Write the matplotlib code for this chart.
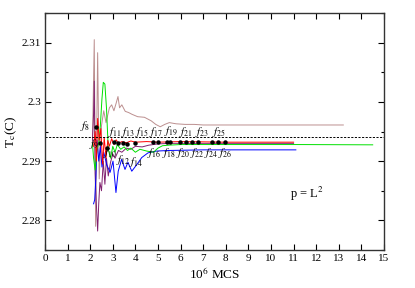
import matplotlib
matplotlib.use("Agg")
import matplotlib.pyplot as plt
from matplotlib.ticker import MultipleLocator

plt.rcParams['font.family'] = ['Liberation Serif', 'DejaVu Serif']
plt.rcParams['mathtext.fontset'] = 'stix'

# ---- data ----
brown_x = [2.10, 2.18, 2.24, 2.33, 2.40, 2.50, 2.60, 2.70, 2.85, 2.95, 3.05, 3.15, 3.23, 3.30, 3.40,
           3.55, 3.70, 3.85, 4.10, 4.40, 4.70, 4.90, 5.10, 5.30, 5.50, 5.80, 6.20, 6.60, 7.00, 8.00, 10.00, 13.20]
brown_y = [2.2930, 2.3105, 2.2790, 2.3083, 2.2870, 2.2960, 2.2985, 2.2965, 2.2990, 2.2995, 2.2985, 2.2998,
           2.3009, 2.2990, 2.2995, 2.2984, 2.2982, 2.2979, 2.2975, 2.2974, 2.2968, 2.2962, 2.2958, 2.2962,
           2.2965, 2.2963, 2.2962, 2.2962, 2.2961, 2.2961, 2.2961, 2.2961]

purple_x = [2.10, 2.15, 2.18, 2.22, 2.27, 2.33, 2.38, 2.43, 2.50, 2.58, 2.65, 2.72, 2.80, 2.90, 3.00,
            3.10, 3.25, 3.40, 3.60, 3.80, 4.00, 4.30, 4.60, 5.00, 5.50, 7.00, 11.00]
purple_y = [2.2935, 2.2980, 2.3035, 2.2880, 2.2830, 2.2782, 2.2830, 2.2864, 2.2850, 2.2900, 2.2861,
            2.2905, 2.2875, 2.2898, 2.2912, 2.2905, 2.2918, 2.2915, 2.2922, 2.2920, 2.2925, 2.2924,
            2.2927, 2.2929, 2.2930, 2.2930, 2.2930]

blue_x = [2.15, 2.20, 2.25, 2.30, 2.38, 2.45, 2.52, 2.60, 2.73, 2.88, 3.01, 3.14, 3.24, 3.39, 3.54,
          3.67, 3.84, 4.06, 4.28, 4.56, 4.94, 5.50, 7.00, 11.10]
blue_y = [2.2828, 2.2835, 2.2870, 2.2935, 2.2900, 2.2925, 2.2890, 2.2915, 2.2894, 2.2881, 2.2900,
          2.2847, 2.2883, 2.2903, 2.2886, 2.2898, 2.2883, 2.2894, 2.2906, 2.2914, 2.2917, 2.2918,
          2.2919, 2.2919]

green_x = [2.10, 2.15, 2.22, 2.30, 2.38, 2.45, 2.52, 2.58, 2.65, 2.72, 2.80, 2.90, 3.00, 3.10, 3.20,
           3.35, 3.50, 3.65, 3.80, 4.00, 4.20, 4.50, 4.80, 5.00, 5.20, 5.50, 6.00, 8.00, 11.00, 14.50]
green_y = [2.2930, 2.2905, 2.2885, 2.2920, 2.2930, 2.2960, 2.3005, 2.3033, 2.3030, 2.2990, 2.2920,
           2.2905, 2.2925, 2.2915, 2.2928, 2.2920, 2.2924, 2.2918, 2.2922, 2.2915, 2.2920, 2.2917,
           2.2915, 2.2922, 2.2926, 2.2927, 2.2928, 2.2928, 2.2928, 2.29275]

red_x = [2.15, 2.22, 2.28, 2.33, 2.40, 2.47, 2.55, 2.62, 2.70, 2.78, 2.85, 2.95, 3.05, 3.15, 3.25,
         3.40, 3.60, 3.80, 4.00, 4.50, 5.00, 6.00, 8.00, 11.00]
red_y = [2.2925, 2.2950, 2.2900, 2.2972, 2.2935, 2.2955, 2.2895, 2.2940, 2.2905, 2.2935, 2.2925,
         2.2938, 2.2928, 2.2936, 2.2930, 2.2933, 2.2931, 2.2934, 2.2932, 2.2933, 2.2932, 2.2933,
         2.2932, 2.2932]

# black points f_n
f_n = list(range(8, 27))
f_x = [2.26, 2.45, 2.75, 3.05, 3.25, 3.45, 3.65, 4.00, 4.79, 5.01, 5.38, 5.53, 5.97, 6.24, 6.49,
       6.76, 7.38, 7.67, 7.96]
f_y = [2.2958, 2.2931, 2.2922, 2.2933, 2.2930, 2.2931, 2.2929, 2.2931, 2.2933, 2.2933, 2.2933,
       2.2933, 2.2933, 2.2933, 2.2933, 2.2933, 2.2933, 2.2933, 2.2933]

# label anchor positions (data coords) for f_8 ... f_26
lab_x = [1.78, 2.18, 2.88, 3.10, 3.45, 3.68, 4.02, 4.28, 4.85, 4.92, 5.48, 5.57, 6.10, 6.25, 6.72,
         6.95, 7.35, 7.70, 7.97]
lab_y = [2.2960, 2.2929, 2.2914, 2.2950, 2.2902, 2.2950, 2.2898, 2.2950, 2.2914, 2.2950, 2.2914,
         2.2950, 2.2914, 2.2950, 2.2914, 2.2950, 2.2914, 2.2950, 2.2913]

tc_ref = 2.294

# ---- figure ----
fig = plt.figure(figsize=(4.15, 2.88), dpi=100)
ax = fig.add_axes([0.1084, 0.1319, 0.8169, 0.823])

lw = 0.7
ax.plot(brown_x, brown_y, color='#bc8f8f', lw=lw)
ax.plot(purple_x, purple_y, color='#80206e', lw=lw)
ax.plot(blue_x, blue_y, color='#0000ff', lw=lw)
ax.plot(green_x, green_y, color='#00e000', lw=lw)
ax.plot(red_x, red_y, color='#ff0000', lw=lw)
ax.axhline(tc_ref, color='black', lw=0.7, dashes=(2.2, 1.5))
ax.plot(f_x, f_y, 'o', color='black', ms=2.2, zorder=5)

for n, x, y in zip(f_n, lab_x, lab_y):
    ax.text(x, y, r'$f_{%d}$' % n, ha='center', va='center', fontsize=8, zorder=6)

ax.text(10.85, 2.2845, r'p = L$^{2}$', fontsize=9, ha='left', va='center')

ax.set_xlim(0, 15)
ax.set_ylim(2.275, 2.315)
ax.xaxis.set_major_locator(MultipleLocator(1))
ax.yaxis.set_minor_locator(MultipleLocator(0.005))
ax.set_yticks([2.28, 2.29, 2.30, 2.31])
ax.set_yticklabels(['2.28', '2.29', '2.3', '2.31'])
ax.tick_params(which='both', direction='in', top=True, right=True, labelsize=8, pad=3)
ax.tick_params(which='major', length=4.3, width=0.8)
ax.tick_params(which='minor', length=2.2, width=0.8)
for s in ax.spines.values():
    s.set_linewidth(1.0)
    s.set_color('#333333')

ax.set_xlabel(r'10$^{6}$ MCS', fontsize=9.5, labelpad=2)
ax.set_ylabel(r'T$_{\rm c}$(C)', fontsize=9.5, labelpad=2)

fig.savefig('out.png', dpi=100)
